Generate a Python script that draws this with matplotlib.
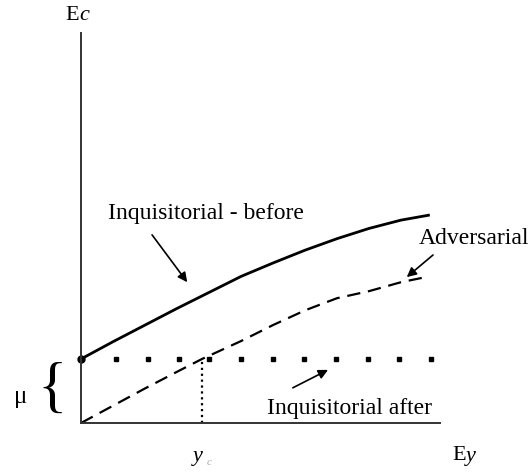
import matplotlib.pyplot as plt

plt.rcParams['font.family'] = ['Liberation Serif', 'DejaVu Serif']

# curves (units: mu = 1)
before_x = [0, 0.5, 1.0, 1.5, 2.0, 2.5, 3.0, 3.5, 4.0, 4.5, 5.0, 5.45]
before_y = [1.0, 1.27, 1.53, 1.79, 2.04, 2.29, 2.5, 2.7, 2.88, 3.04, 3.17, 3.25]

adv_x = [0, 0.5, 1.0, 1.5, 1.89, 2.5, 3.0, 3.5, 4.0, 4.5, 5.0, 5.34]
adv_y = [0, 0.27, 0.54, 0.8, 1.0, 1.28, 1.53, 1.76, 1.95, 2.06, 2.2, 2.27]

mu = 1.0
y_c = 1.89
after_x = [0.55, 1.05, 1.53, 2.0, 2.5, 3.0, 3.48, 3.98, 4.48, 4.97, 5.47]

fig = plt.figure(figsize=(5.3, 4.72), dpi=100)
ax = fig.add_axes([81 / 530, 49 / 472, 359 / 530, 390 / 472])
ax.set_xlim(0, 359 / 64)
ax.set_ylim(0, 390 / 64)
for s in ['top', 'right']:
    ax.spines[s].set_visible(False)
for s in ['left', 'bottom']:
    ax.spines[s].set_linewidth(1.4)
    ax.spines[s].set_color('#333333')
ax.set_xticks([])
ax.set_yticks([])

ax.plot(before_x, before_y, color='black', lw=2.0, solid_capstyle='butt')
ax.plot([0], [mu], 'o', color='black', ms=5, clip_on=False)
ax.plot(adv_x, adv_y, color='black', lw=1.6, dashes=(6, 3.5))
ax.plot(after_x, [mu] * len(after_x), 's', color='black', ms=3.2, lw=0)
ax.plot([y_c, y_c], [0, mu], color='black', lw=1.6, ls=':')

# labels
fs = 17
ax.text(-0.25, 6.37, 'E', fontsize=16, ha='left', va='center', clip_on=False)
ax.text(-0.03, 6.37, 'c', fontsize=16, style='italic', ha='left', va='center', clip_on=False)
ax.text(5.8, -0.5, 'E', fontsize=16, ha='left', va='center', clip_on=False)
ax.text(6.02, -0.53, 'y', fontsize=16, style='italic', ha='left', va='center', clip_on=False)
ax.text(1.75, -0.53, 'y', fontsize=16, style='italic', ha='left', va='center', clip_on=False)
ax.text(1.96, -0.62, 'c', fontsize=8, style='italic', color='#aaaaaa', ha='left', va='center',
        clip_on=False)
ax.text(-0.95, 0.41, 'μ', fontsize=18, ha='center', va='center', clip_on=False)
ax.text(-0.45, 0.5, '{', fontsize=44, ha='center', va='center', clip_on=False)

arrow = dict(arrowstyle='-|>', color='black', lw=1.2, mutation_scale=14, shrinkA=0, shrinkB=0)
ax.text(0.42, 3.28, 'Inquisitorial - before', fontsize=fs, ha='left', va='center')
ax.annotate('', xy=(1.66, 2.2), xytext=(1.11, 2.94), arrowprops=arrow)
ax.text(5.27, 2.89, 'Adversarial', fontsize=fs, ha='left', va='center', clip_on=False)
ax.annotate('', xy=(5.09, 2.28), xytext=(5.5, 2.625), arrowprops=arrow, annotation_clip=False)
ax.text(2.91, 0.23, 'Inquisitorial after', fontsize=fs, ha='left', va='center')
ax.annotate('', xy=(3.86, 0.83), xytext=(3.31, 0.55), arrowprops=arrow)

fig.savefig('out.png', dpi=100)
